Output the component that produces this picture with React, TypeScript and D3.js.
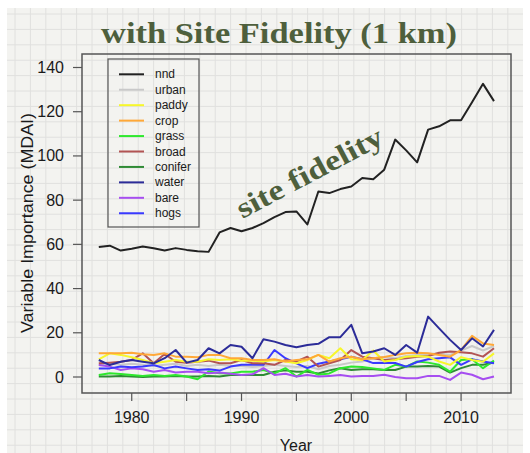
import * as d3 from "d3";
import React from "react";

const W = 530;
const H = 453;

const years = d3.range(1977, 2014);
const yTicks = [0, 20, 40, 60, 80, 100, 120, 140];
const xTicks = [1980, 1985, 1990, 1995, 2000, 2005, 2010];
const xLabels = [1980, 1990, 2000, 2010];

const nnd = [58.8, 59.4, 57.2, 58, 59, 58.2, 57.2, 58.3, 57.5, 56.9, 56.6, 65.4, 67.4, 65.9, 67.4, 69.6, 72.3, 74.6, 74.9, 69, 83.9, 83.2, 85, 86.2, 90, 89.5, 93.8, 107.4, 102.5, 97.1, 111.9, 113.4, 116.1, 116.1, 124.3, 132.6, 124.8];
const urban = [5.5, 6, 5.5, 6, 5.5, 5, 5.5, 6, 5, 5.5, 5, 5.5, 5, 5, 4.5, 5, 5.5, 5, 4.5, 5, 3.5, 5, 5.5, 6.5, 7, 8.5, 9, 8.5, 9.5, 10, 10, 10.5, 10, 12, 14, 12, 14];
const paddy = [8, 10.7, 10, 8.9, 7.7, 6.2, 6.9, 7.7, 6.9, 6.9, 8, 7.7, 8, 7.4, 7.4, 7, 7.7, 7, 6.2, 7.7, 10, 8.5, 13, 8, 7.7, 12, 7, 7.7, 9.2, 9.5, 9.2, 7, 5.5, 9, 7.7, 6.9, 10.7];
const crop = [10.7, 10.7, 10.7, 11, 10.3, 10, 10.7, 9.2, 9.2, 8.9, 10, 10, 8.5, 8.5, 7.7, 7.7, 8, 7, 7.7, 8, 10, 7, 8.5, 9.2, 8, 8.5, 9, 10, 10.7, 11, 10.7, 10, 9.2, 12.2, 18.6, 15.2, 14.5];
const grass = [0.9, 1.7, 1.4, 0.9, 0.5, 0.9, 0.5, 0.9, 0.2, -1, 2.5, 1.7, 1.6, 2.4, 2.4, 3.2, 1.6, 4, 0.2, 3.2, 1, 1.6, 4, 4.7, 4.5, 3.9, 3.2, 5.5, 4.7, 7, 6.5, 5.5, 2.4, 7.7, 8, 4, 7.4];
const broad = [6.2, 6.5, 6.9, 7.7, 10.7, 6.2, 10.4, 6.9, 6.5, 6.9, 7.4, 6.2, 6.2, 7.7, 6.2, 6.2, 5.5, 7.7, 7, 9.2, 4.7, 6.2, 7.7, 12.2, 9.2, 8.5, 7.7, 8, 8.5, 9.2, 9.5, 11, 11.5, 11.2, 10.7, 9.2, 13];
const conifer = [0.2, 0.2, 0.5, 0.2, 0, 0.2, 0.2, 0.5, 0.2, 0.2, 0.5, 0.2, 0.9, 0.9, 0.9, 0.9, 2.4, 3, 2.4, 2.4, 1.6, 3, 4, 3.2, 3.5, 3.5, 3.2, 3.2, 4.7, 4.7, 5, 4.7, 2, 4, 5.5, 5.5, 6.5];
const water = [7.7, 5.4, 6.9, 7.7, 6.9, 6.2, 8.5, 12.2, 6.5, 7.7, 13, 10.7, 14.5, 13.7, 8.5, 17.1, 16, 14.5, 13.5, 14.5, 15, 18, 18, 23.6, 10.7, 11.5, 13, 10, 14.5, 11, 27.3, 22, 16.8, 12.2, 17.5, 13.8, 21.3];
const bare = [5.4, 4.7, 3.2, 3.9, 3.5, 2.4, 3.2, 2, 2.4, 2.4, 1.7, 2, 1.5, 0.9, 1.2, 4, 0.9, 1.5, 0.2, 0.9, 0.2, 0.5, 0.9, 0.2, 0.5, 0.5, 1, 0, -0.6, -0.6, 0.5, 0.5, -1.3, 2, 1, -1, 0.2];
const hogs = [3.9, 3.9, 4.7, 4.4, 4.7, 5.4, 3.9, 4.7, 3.9, 3.2, 3.5, 2.9, 4.7, 5.5, 5.5, 5.5, 12.2, 8.5, 6.2, 4, 6, 7, 8, 9.2, 8, 6.3, 6.5, 6.3, 4.7, 6.8, 8, 8.5, 8.9, 5.5, 8, 7, 6.2];

const seriesNames = ["nnd", "urban", "paddy", "crop", "grass", "broad", "conifer", "water", "bare", "hogs"];
const seriesValues = [nnd, urban, paddy, crop, grass, broad, conifer, water, bare, hogs];
const seriesColors = ["#222222", "#c9c9c9", "#f7f72a", "#ffa838", "#2ee82e", "#b25454", "#2f8a35", "#2c2c98", "#a64ef0", "#3a3aff"];

// draw order: low lines first, nnd on top
const drawOrder = [1, 6, 4, 8, 9, 5, 2, 3, 7, 0];

const margin = { left: 82, right: 511, top: 54, bottom: 393 };

export default function App() {
  const x = d3.scaleLinear().domain([1977, 2013]).range([98.8, 494]);
  const y = d3.scaleLinear().domain([0, 140]).range([377, 67.5]);

  const line = d3
    .line<number>()
    .x((_, i) => x(years[i]))
    .y((d) => y(d));

  const grid = 15.4;
  const gx = d3.range(7 + 8, 523, grid);
  const gy = d3.range(8 + 6, H, grid);

  const legendX = 108;
  const legendY = 59;
  const legendStep = 15.44;

  return (
    <div style={{ position: "fixed", left: 0, top: 0, width: W, height: H, background: "#fff" }}>
      <svg width={W} height={H} style={{ display: "block" }}>
        {/* paper */}
        <rect x={7} y={8} width={516} height={H - 8} fill="#f3f3f0" />
        <g stroke="#e0e0de" strokeWidth={1}>
          {gx.map((v) => (
            <line key={"gx" + v} x1={v} x2={v} y1={8} y2={H} />
          ))}
          {gy.map((v) => (
            <line key={"gy" + v} x1={7} x2={523} y1={v} y2={v} />
          ))}
        </g>

        <text
          x={279}
          y={43}
          textAnchor="middle"
          fontFamily="'Liberation Serif', 'DejaVu Serif', serif"
          fontWeight="bold"
          fontSize={30}
          fill="#4e5f3c"
          textLength={356}
          lengthAdjust="spacingAndGlyphs"
        >
          with Site Fidelity (1 km)
        </text>

        {/* plot box */}
        <rect
          x={margin.left}
          y={margin.top}
          width={margin.right - margin.left}
          height={margin.bottom - margin.top}
          fill="none"
          stroke="#555"
          strokeWidth={1.5}
        />

        {/* axes */}
        <g fontFamily="'Liberation Sans', Arial, sans-serif" fontSize={16} fill="#1a1a1a">
          {yTicks.map((t) => (
            <g key={"yt" + t}>
              <line x1={73} x2={margin.left} y1={y(t)} y2={y(t)} stroke="#555" strokeWidth={1.2} />
              <text x={64} y={y(t)} textAnchor="end" dominantBaseline="central">
                {t}
              </text>
            </g>
          ))}
          {xTicks.map((t) => (
            <line key={"xt" + t} x1={x(t)} x2={x(t)} y1={margin.bottom} y2={401} stroke="#555" strokeWidth={1.2} />
          ))}
          {xLabels.map((t) => (
            <text key={"xl" + t} x={x(t)} y={423} textAnchor="middle">
              {t}
            </text>
          ))}
          <text x={296} y={451} textAnchor="middle">
            Year
          </text>
          <text
            transform={`translate(33,223) rotate(-90)`}
            textAnchor="middle"
            fontSize={17}
            textLength={220}
            lengthAdjust="spacingAndGlyphs"
          >
            Variable Importance (MDAI)
          </text>
        </g>

        {/* series */}
        <g fill="none" strokeWidth={2} strokeLinejoin="round">
          {drawOrder.map((i) => (
            <path key={seriesNames[i]} d={line(seriesValues[i]) ?? ""} stroke={seriesColors[i]} />
          ))}
        </g>

        {/* legend */}
        <rect x={legendX} y={legendY} width={91} height={168} fill="none" stroke="#555" strokeWidth={1.2} />
        <g fontFamily="'Liberation Sans', Arial, sans-serif" fontSize={12} fill="#1a1a1a">
          {seriesNames.map((name, i) => {
            const ly = legendY + 15.3 + i * legendStep;
            return (
              <g key={"lg" + name}>
                <line x1={119} x2={144} y1={ly} y2={ly} stroke={seriesColors[i]} strokeWidth={2} />
                <text x={155} y={ly} dominantBaseline="central">
                  {name}
                </text>
              </g>
            );
          })}
        </g>

        <text
          transform="translate(314,181) rotate(-28)"
          textAnchor="middle"
          fontFamily="'Liberation Serif', 'DejaVu Serif', serif"
          fontWeight="bold"
          fontSize={29}
          fill="#4e5f3c"
          textLength={162}
          lengthAdjust="spacingAndGlyphs"
        >
          site fidelity
        </text>
      </svg>
    </div>
  );
}
